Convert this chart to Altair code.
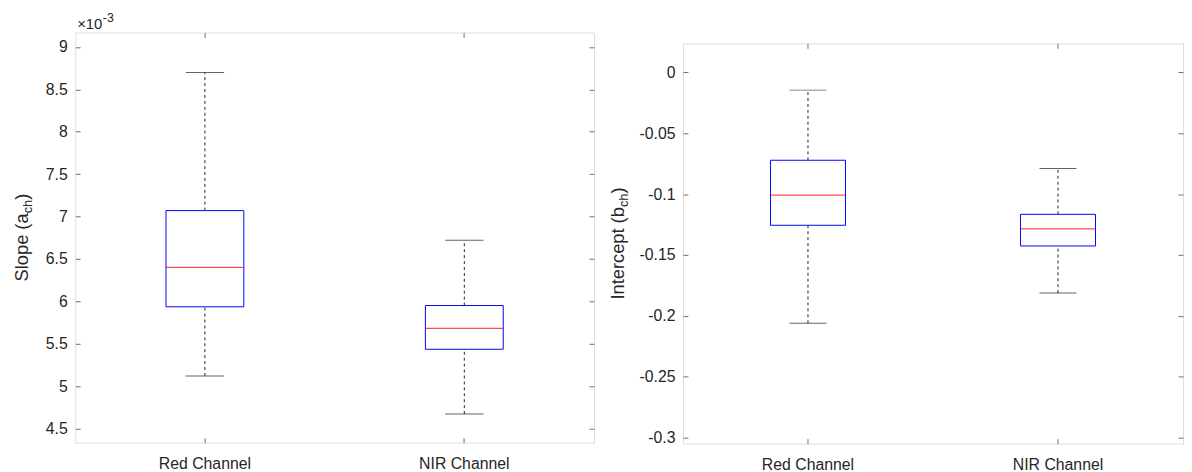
import altair as alt
import pandas as pd

# ---------------- data ----------------
channels = ["Red Channel", "NIR Channel"]

slope_lower = [0.00512, 0.00467]
slope_q1 = [0.005935, 0.005434]
slope_median = [0.00640, 0.00568]
slope_q3 = [0.00707, 0.00595]
slope_upper = [0.00870, 0.00672]

icpt_lower = [-0.2060, -0.1813]
icpt_q1 = [-0.1256, -0.1426]
icpt_median = [-0.1009, -0.1285]
icpt_q3 = [-0.0722, -0.1166]
icpt_upper = [-0.0146, -0.0790]

slope_ticks = [0.0045, 0.005, 0.0055, 0.006, 0.0065, 0.007, 0.0075, 0.008, 0.0085, 0.009]
icpt_ticks = [-0.3, -0.25, -0.2, -0.15, -0.1, -0.05, 0.0]
slope_domain = [0.004333, 0.009171]
icpt_domain = [-0.3049, 0.0238]

# ---------------- style ----------------
FONT = "Liberation Sans"
TEXT_COL = "#262626"
FRAME_COL = "#6e6e6e"
TICK_FS = 16
LABEL_FS = 18.5
SUB_FS = 13

ARIAL = {"S": 667, "l": 222, "o": 556, "p": 556, "e": 556, " ": 278, "(": 333,
         "a": 556, "c": 500, "h": 556, ")": 333, "I": 278, "n": 556, "t": 278,
         "r": 333, "b": 556, "\u00d7": 584, "1": 556, "0": 556, "-": 333, "3": 556}


def tw(s, size):
    return sum(ARIAL.get(ch, 556) for ch in s) / 1000.0 * size


def text_layer(txt, x, y, size, align="left", angle=0):
    kw = dict(align=align, baseline="alphabetic", font=FONT, fontSize=size, color=TEXT_COL)
    if angle:
        kw["angle"] = angle
    return alt.Chart(pd.DataFrame({"t": [txt]})).mark_text(**kw).encode(
        x=alt.value(x), y=alt.value(y), text="t:N")


def panel(lower, q1, med, q3, upper, ticks, domain, label_expr, width, height,
          prefix, sub, title_x, extra_layers):
    df = pd.DataFrame({"channel": channels, "lower": lower, "q1": q1,
                       "median": med, "q3": q3, "upper": upper})
    xs = alt.Scale(type="band", domain=channels, paddingInner=0.7, paddingOuter=0.35)
    ys = alt.Scale(domain=domain, nice=False, zero=False)
    common = dict(domain=False, grid=False, tickSize=5, offset=-5,
                  tickColor=FRAME_COL, tickWidth=1, title=None)
    x_bottom = alt.Axis(orient="bottom", labelAngle=0, labelPadding=13,
                        labelFontSize=TICK_FS, labelFont=FONT, labelColor=TEXT_COL,
                        bandPosition=0.5, **common)
    x_top = alt.Axis(orient="top", labels=False, bandPosition=0.5, **common)
    y_left = alt.Axis(orient="left", values=ticks, labelExpr=label_expr, labelPadding=8,
                      labelFontSize=TICK_FS, labelFont=FONT, labelColor=TEXT_COL, **common)
    y_right = alt.Axis(orient="right", values=ticks, labels=False, **common)

    def X(ax):
        return alt.X("channel:N", scale=xs, sort=channels, axis=ax)

    base = alt.Chart(df)
    dash = dict(color="#222222", strokeDash=[3, 3], strokeWidth=1)
    upper_wh = base.mark_rule(**dash).encode(
        x=X(x_bottom), y=alt.Y("q3:Q", scale=ys, axis=y_left), y2="upper:Q")
    lower_wh = base.mark_rule(**dash).encode(
        x=X(x_top), y=alt.Y("lower:Q", scale=ys, axis=y_right), y2="q1:Q")
    box = base.mark_bar(fill="white", stroke="#0000ff", strokeWidth=1).encode(
        x=X(None), y=alt.Y("q1:Q", scale=ys, axis=None), y2="q3:Q")
    median = base.mark_tick(color="#ff0000", thickness=1.2, size=0.15 * width).encode(
        x=X(None), y=alt.Y("median:Q", scale=ys, axis=None))
    cap_hi = base.mark_tick(color="#222222", thickness=1, size=0.074 * width).encode(
        x=X(None), y=alt.Y("upper:Q", scale=ys, axis=None))
    cap_lo = base.mark_tick(color="#222222", thickness=1, size=0.074 * width).encode(
        x=X(None), y=alt.Y("lower:Q", scale=ys, axis=None))

    # y title with a subscript
    w1 = tw(prefix, LABEL_FS)
    w2 = tw(sub, SUB_FS)
    w3 = tw(")", LABEL_FS)
    total = w1 + w2 + w3
    y0 = height / 2 + total / 2
    t1 = text_layer(prefix, title_x, y0, LABEL_FS, angle=270)
    t2 = text_layer(sub, title_x + 4, y0 - w1, SUB_FS, angle=270)
    t3 = text_layer(")", title_x, y0 - w1 - w2, LABEL_FS, angle=270)

    layers = [upper_wh, lower_wh, box, median, cap_hi, cap_lo, t1, t2, t3] + extra_layers
    return alt.layer(*layers).resolve_axis(x="independent", y="independent").properties(
        width=width, height=height)


# exponent annotation for the slope panel
exp_main = text_layer("\u00d710", 2, -4, 15)
exp_sup = text_layer("-3", 2 + tw("\u00d710", 15) + 0.5, -11, 12.5)

left = panel(slope_lower, slope_q1, slope_median, slope_q3, slope_upper,
             slope_ticks, slope_domain, "format(datum.value*1000, '~g')",
             525, 415, "Slope (a", "ch", -48, [exp_main, exp_sup])

right = panel(icpt_lower, icpt_q1, icpt_median, icpt_q3, icpt_upper,
              icpt_ticks, icpt_domain,
              "replace(format(datum.value, '~g'), '\u2212', '-')",
              506, 405, "Intercept (b", "ch", -60, [])

# empty strip above the intercept panel: its frame starts 11 px lower
strip = alt.Chart(pd.DataFrame({"v": [0]})).mark_point(opacity=0).encode(
    x=alt.value(0), y=alt.value(0)
).properties(width=506, height=10, view=alt.ViewBackground(strokeOpacity=0))

right_col = alt.vconcat(strip, right, spacing=0)

chart = alt.hconcat(left, right_col, spacing=13).properties(
    padding={"left": 4, "top": 0, "right": 0, "bottom": 0}
).configure_view(stroke=FRAME_COL, strokeWidth=1).configure(background="white")

chart.save("out.html", embed_options={"renderer": "svg", "actions": False})
